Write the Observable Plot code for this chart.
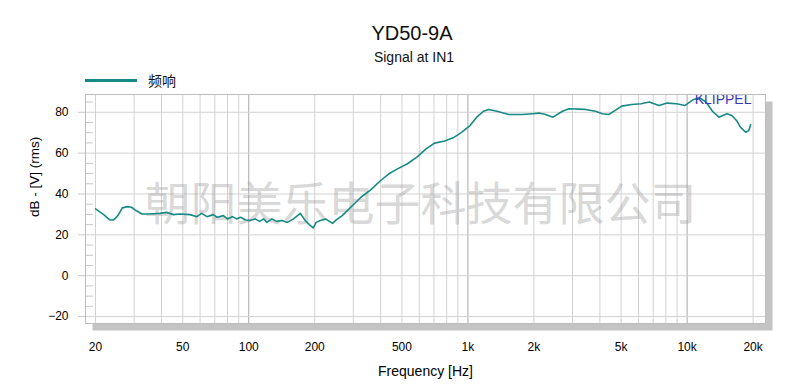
<!DOCTYPE html>
<html><head><meta charset="utf-8">
<script src="https://cdn.jsdelivr.net/npm/d3@7"></script>
<script src="https://cdn.jsdelivr.net/npm/@observablehq/plot@0.6"></script>
<style>
body{margin:0;background:#fff;font-family:"Liberation Sans",Arial,sans-serif;}
#wrap{position:relative;width:790px;height:389px;overflow:hidden;background:#fff;}
#head{position:relative;height:88px;}
.title{position:absolute;left:0;width:824px;text-align:center;top:23px;font-size:20px;line-height:20px;color:#111;}
.sub{position:absolute;left:0;width:828px;text-align:center;top:50px;font-size:14px;line-height:14px;color:#111;}
.legend{position:absolute;left:85px;top:72px;height:16px;display:flex;align-items:center;}
.legend .sw{width:52px;height:3px;background:#178a86;}
.legend .lb{margin-left:11px;font-family:"Noto Sans CJK SC",sans-serif;font-size:14px;line-height:16px;color:#111;}
svg{display:block}
</style></head>
<body>
<div id="wrap">
  <div id="head">
    <div class="title" id="title"></div>
    <div class="sub" id="sub"></div>
    <div class="legend"><div class="sw"></div><div class="lb" id="leg"></div></div>
  </div>
  <div id="chart"></div>
</div>
<script>
const titleText = "YD50-9A";
const subtitleText = "Signal at IN1";
const seriesName = "频响";
const watermarkText = "朝阳美乐电子科技有限公司";
const brandText = "KLIPPEL";
const xLabel = "Frequency [Hz]";
const yLabel = "dB - [V] (rms)";

const freq = [20,21.8,23.2,24.2,25.3,26.5,27.9,29.2,30.6,32.6,35,39.3,42.1,45.4,48.5,54,58,61,64.5,68.8,71.8,76.6,79.9,84.2,88,91.8,96.8,101,107,112,117,121,127.6,134,142,150,160,172,181,191,197,203,212,224,241,251,267,292,325,360,400,436,477,530,589,644,704,783,857,935,1022,1097,1178,1243,1357,1537,1767,1966,2110,2263,2446,2700,2890,3440,3820,4100,4390,4700,5030,5580,6170,6720,7440,8100,8970,9760,10630,11400,12200,13050,13960,15200,16000,16800,17500,18500,19100,19500];
const level = [32.7,29.9,27.3,27.3,29.4,33.2,33.8,33.5,31.9,30.2,30.2,30.5,31,29.9,30.2,29.9,28.9,30.5,28.9,29.9,28.6,29.4,27.8,28.9,27.8,28.6,27.3,27,27.8,26.6,27.8,26.1,27.8,26.6,27,26.1,27.8,30.5,27,24.5,23.4,26.1,27,27.8,25.6,27.3,29.4,33.5,38.4,42,46.6,49.9,52.3,54.8,58.3,62.1,64.9,65.9,67.5,70.2,73.5,77.6,80.5,81.4,80.5,78.9,78.9,79.3,79.6,78.9,77.6,80.5,81.7,81.4,80.5,79.3,78.9,80.9,83,83.8,84.2,85,83.3,84.5,84.2,83.3,86.1,87.1,85,80.5,77.6,79.3,78.4,76,72.7,70.2,71,73.9];

const xTicks = [20,50,100,200,500,1000,2000,5000,10000,20000];
const xTickLabels = ["20","50","100","200","500","1k","2k","5k","10k","20k"];
const xMinorGrid = [20,30,40,50,60,70,80,90,200,300,400,500,600,700,800,900,2000,3000,4000,5000,6000,7000,8000,9000,20000];
const xMajorGrid = [100,1000,10000];
const yTicks = [-20,0,20,40,60,80];
const yMinor = [-15,-10,-5,5,10,15,25,30,35,45,50,55,65,70,75,85];

document.getElementById("title").textContent = titleText;
document.getElementById("sub").textContent = subtitleText;
document.getElementById("leg").textContent = seriesName;

const data = freq.map((f, i) => ({f, v: level[i]}));
const tickData = xTicks.map((t, i) => ({t, label: xTickLabels[i]}));
const teal = "#178a86";

const chart = Plot.plot({
  width: 790,
  height: 301,
  marginTop: 6,
  marginBottom: 66,
  marginLeft: 85,
  marginRight: 25,
  style: {fontFamily: "'Liberation Sans', Arial, sans-serif", fontSize: "12px", background: "white", color: "#000"},
  x: {type: "log", domain: [18.0, 22784]},
  y: {domain: [-23.4, 88.7]},
  marks: [
    Plot.frame({fill: "#c4c4c4", dx: 7, dy: 7}),
    Plot.frame({fill: "white"}),
    Plot.ruleX(xMinorGrid, {stroke: "#d2d2d2"}),
    Plot.ruleX(xMajorGrid, {stroke: "#a9a9a9"}),
    Plot.ruleY(yTicks, {stroke: "#d2d2d2"}),
    Plot.tickY(yMinor, {stroke: "#c8c8c8", insetRight: 672}),
    Plot.text([watermarkText], {frameAnchor: "middle", dx: -5, dy: -4, fontFamily: "'Noto Sans CJK SC', sans-serif", fontSize: 46, fill: "#9a9a9a", fillOpacity: 0.4}),
    Plot.line(data, {x: "f", y: "v", stroke: teal, strokeWidth: 1.6}),
    Plot.text([brandText], {frameAnchor: "top-right", textAnchor: "end", lineAnchor: "top", dx: -14, dy: 0, fontSize: 14, fill: "#3a3ab8"}),
    Plot.frame({stroke: "#bdbdbd"}),
    Plot.axisY({ticks: yTicks, tickSize: 7, tickPadding: 10, stroke: "#c8c8c8", fill: "#000", label: null, fontSize: 12}),
    Plot.axisX({ticks: [], label: xLabel, labelAnchor: "center", labelOffset: 51, labelArrow: "none", fill: "#000", fontSize: 12}),
    Plot.text(tickData, {x: "t", text: "label", frameAnchor: "bottom", lineAnchor: "top", dy: 19, fontSize: 12, fill: "#000"}),
    Plot.text([xLabel], {frameAnchor: "bottom", lineAnchor: "bottom", dy: 52, fontSize: 14, fill: "#000"}),
    Plot.text([yLabel], {frameAnchor: "left", rotate: -90, dx: -51, dy: 8, fontSize: 13.5, fill: "#000"})
  ]
});
// remove axis-generated label (we draw our own larger one)
chart.querySelectorAll("[aria-label='x-axis label']").forEach(n => n.remove());
document.getElementById("chart").appendChild(chart);
</script>
</body></html>
